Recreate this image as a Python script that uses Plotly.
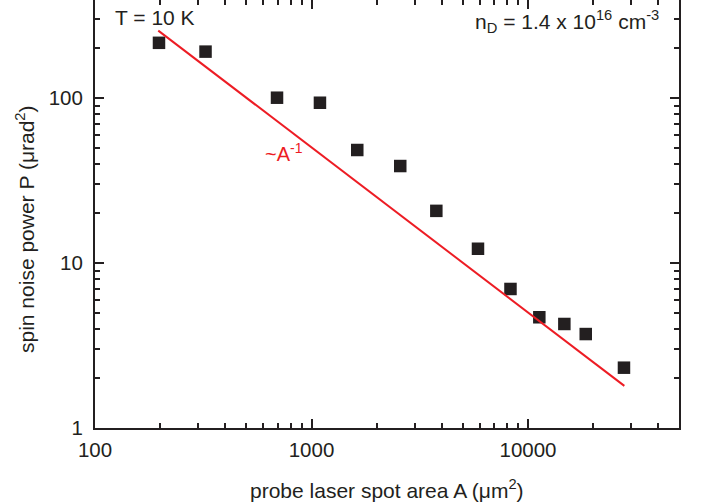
import numpy as np
import plotly.graph_objects as go

# data
area = [197.5, 324, 693, 1094, 1627, 2570, 3772, 5875, 8300, 11280, 14720, 18480, 27750]
power = [216, 191, 100.4, 93.6, 48.4, 38.7, 20.7, 12.2, 6.96, 4.69, 4.27, 3.71, 2.32]
fit_area = [196, 27860]
fit_power = [256, 1.80]

x_major = [100, 1000, 10000]
x_major_text = ["100", "1000", "10000"]
x_minor = [m * d for d in (100, 1000, 10000) for m in range(2, 10) if m * d < 50000]
y_major = [1, 10, 100]
y_major_text = ["1", "10", "100"]
y_minor = [m * d for d in (1, 10, 100) for m in range(2, 10) if m * d < 394]

ink = "#231f20"
red = "#ed1c24"
FONT = "Liberation Sans, Arial, Helvetica, sans-serif"

W, H = 705, 502
L, R, T, B = 95, 26, 0, 74
plot_w = W - L - R
plot_h = H - T - B
px_per_dec_x = 216.5
px_per_dec_y = 165.0
xr = [2, 2 + plot_w / px_per_dec_x]
yr = [0, plot_h / px_per_dec_y]

fig = go.Figure()
fig.add_trace(go.Scatter(
    x=area, y=power, mode="markers",
    marker=dict(symbol="square", size=12.5, color=ink, line=dict(width=0)),
    xaxis="x", yaxis="y", showlegend=False, hoverinfo="skip"))
fig.add_trace(go.Scatter(
    x=fit_area, y=fit_power, mode="lines",
    line=dict(color=red, width=2),
    xaxis="x2", yaxis="y", showlegend=False, hoverinfo="skip"))

common = dict(type="log", showgrid=False, zeroline=False,
              tickcolor=ink, tickwidth=2, ticklen=9, ticks="inside",
              tickfont=dict(family=FONT, size=20.5, color=ink))

fig.update_layout(
    width=W, height=H,
    margin=dict(l=L, r=R, t=T, b=B, pad=0),
    paper_bgcolor="white", plot_bgcolor="white",
    font=dict(family=FONT, color=ink),
    xaxis=dict(**common, range=xr, tickmode="array", tickvals=x_major,
               ticktext=x_major_text, showline=True, linecolor=ink, linewidth=2,
               mirror=False, ticklabelstandoff=2,
               minor=dict(tickmode="array", tickvals=x_minor, ticks="inside",
                          ticklen=5, tickwidth=2, tickcolor=ink, showgrid=False)),
    xaxis2=dict(**common, range=xr, tickmode="array", tickvals=x_major,
                showticklabels=False, overlaying="x", side="top", anchor="y",
                showline=False,
                minor=dict(tickmode="array", tickvals=x_minor, ticks="inside",
                           ticklen=5, tickwidth=2, tickcolor=ink, showgrid=False)),
    yaxis=dict(**common, range=yr, tickmode="array", tickvals=y_major,
               ticktext=y_major_text, showline=True, linecolor=ink, linewidth=2,
               mirror="ticks", ticklabelstandoff=6,
               minor=dict(tickmode="array", tickvals=y_minor, ticks="inside",
                          ticklen=5, tickwidth=2, tickcolor=ink, showgrid=False)),
)

def px_to_paper(px, py):
    return (px - L) / plot_w, 1 - (py - T) / plot_h

anns = [
    ("T = 10 K", 113, 18, "left", ink, 21, 0),
    ("n<sub>D</sub> = 1.4 x 10<sup>16</sup> cm<sup>-3</sup>", 473, 22, "left", ink, 21, 0),
    ("~A<sup>-1</sup>", 263, 153, "left", red, 20, 0),
    ("probe laser spot area A (μm<sup>2</sup>)", 387, 489, "center", ink, 21, 0),
    ("spin noise power P (μrad<sup>2</sup>)", 25, 229, "center", ink, 21, -90),
]
for text, px, py, xa, col, sz, ang in anns:
    ax, ay = px_to_paper(px, py)
    fig.add_annotation(text=text, x=ax, y=ay, xref="paper", yref="paper",
                       xanchor=xa, yanchor="middle", showarrow=False,
                       textangle=ang, font=dict(family=FONT, size=sz, color=col))

fig.write_html("out.html")
